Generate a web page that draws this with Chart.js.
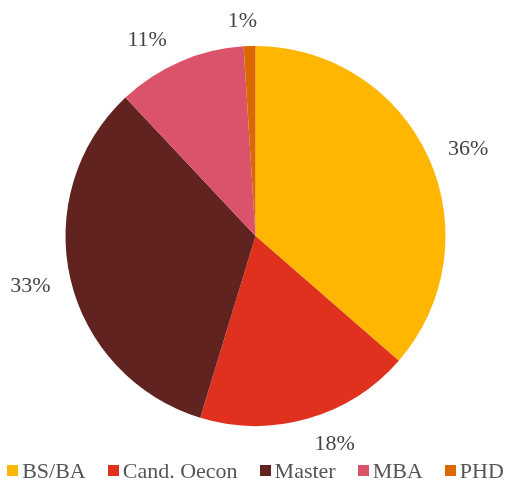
<!DOCTYPE html>
<html>
<head>
<meta charset="utf-8">
<script src="https://cdn.jsdelivr.net/npm/chart.js@4"></script>
<style>
  html, body { margin: 0; padding: 0; background: #fff; }
  #wrap { position: relative; width: 511px; height: 484px; }
  #legend {
    position: absolute; left: 0; right: 0; top: 458px; height: 26px;
    display: flex; justify-content: center; align-items: center; gap: 22px;
    font-family: 'Liberation Serif', serif; font-size: 22px; color: #555;
  }
  #legend .item { display: flex; align-items: center; white-space: nowrap; }
  #legend .box { width: 11px; height: 11px; margin-right: 4px; margin-top: -2px; }
</style>
</head>
<body>
<div id="wrap">
  <canvas id="chart"></canvas>
  <div id="legend"></div>
</div>
<script>
const degrees = ["BS/BA", "Cand. Oecon", "Master", "MBA", "PHD"];
const shares = [36.4, 18.3, 33.3, 11.0, 1.0];
const colors = ["#FFB600", "#E0301E", "#602320", "#DB536A", "#DC6900"];

const FONT = "'Liberation Serif', serif";

// percent labels outside each slice, small hand nudges so they sit like the original
const labelNudge = [[8, 6], [17, -8], [-6, -1], [-19, 11], [-6, 10]];
const outsideLabels = {
  id: "outsideLabels",
  afterDatasetsDraw(chart) {
    const ctx = chart.ctx;
    const meta = chart.getDatasetMeta(0);
    const total = shares.reduce((a, b) => a + b, 0);
    ctx.save();
    ctx.font = "22px " + FONT;
    ctx.fillStyle = "#444";
    ctx.textAlign = "center";
    ctx.textBaseline = "middle";
    meta.data.forEach((arc, i) => {
      const mid = (arc.startAngle + arc.endAngle) / 2;
      const r = arc.outerRadius + 35;
      const x = arc.x + Math.cos(mid) * r + labelNudge[i][0];
      const y = arc.y + Math.sin(mid) * r + labelNudge[i][1];
      ctx.fillText(Math.round(shares[i] / total * 100) + "%", x, y);
    });
    ctx.restore();
  }
};

new Chart(document.getElementById("chart"), {
  type: "pie",
  data: {
    labels: degrees,
    datasets: [{
      data: shares,
      backgroundColor: colors,
      borderWidth: 0
    }]
  },
  options: {
    responsive: true,
    maintainAspectRatio: false,
    animation: false,
    radius: 190,
    layout: { padding: { top: 30, bottom: 42 } },
    plugins: {
      tooltip: { enabled: false },
      legend: { display: false }
    }
  },
  plugins: [outsideLabels]
});

// legend built from the same arrays
const legend = document.getElementById("legend");
degrees.forEach((name, i) => {
  const item = document.createElement("span");
  item.className = "item";
  const box = document.createElement("span");
  box.className = "box";
  box.style.background = colors[i];
  item.appendChild(box);
  item.appendChild(document.createTextNode(name));
  legend.appendChild(item);
});
</script>
</body>
</html>
